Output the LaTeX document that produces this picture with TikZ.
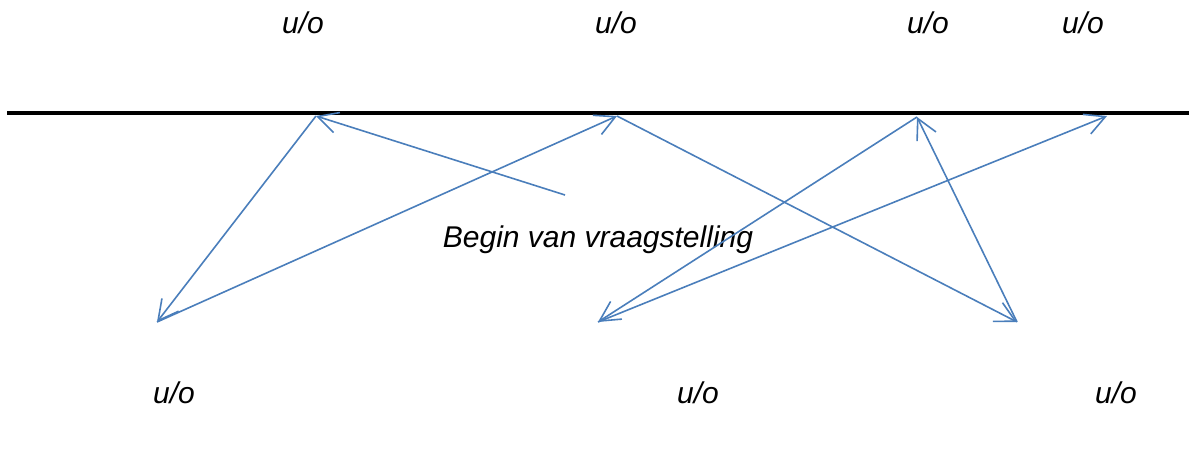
\documentclass[tikz,border=0pt]{standalone}
\usepackage{fontspec}
\setmainfont{Liberation Sans}
\usetikzlibrary{arrows.meta}
\definecolor{arrowblue}{HTML}{4A7EBB}
\begin{document}
\begin{tikzpicture}[x=1pt,y=-1pt,
  lbl/.style={font=\fontsize{30}{36}\selectfont\itshape, inner sep=0pt, anchor=center},
  conn/.style={draw=arrowblue, line width=1.6pt, -{Straight Barb[length=20pt,width=21pt,line width=1.6pt]}},
  pt/.style={coordinate}]
\useasboundingbox (0,0) rectangle (1190,454);
% labels
\node[lbl] (t1) at (303,23) {u/o};
\node[lbl] (t2) at (616,23) {u/o};
\node[lbl] (t3) at (928,23) {u/o};
\node[lbl] (t4) at (1083,23) {u/o};
\node[lbl] (b1) at (174,393) {u/o};
\node[lbl] (b2) at (698,393) {u/o};
\node[lbl] (b3) at (1116,393) {u/o};
\node[lbl] (q) at (598,240) {Begin van vraagstelling};
% base line
\coordinate (L) at (7,113);
\coordinate (R) at (1189,113);
\draw[line width=3.6pt] (L) -- (R);
% path points
\coordinate (s) at (565,195);
\coordinate (p1) at (316,116);
\coordinate (p2) at (157,322);
\coordinate (p3) at (617,116);
\coordinate (p4) at (1017,322);
\coordinate (p5) at (917,117);
\coordinate (p6) at (598,322);
\coordinate (p7) at (1107,116);
\draw[conn] (s) -- (p1);
\draw[conn] (p1) -- (p2);
\draw[conn] (p2) -- (p3);
\draw[conn] (p3) -- (p4);
\draw[conn] (p4) -- (p5);
\draw[conn] (p5) -- (p6);
\draw[conn] (p6) -- (p7);
\end{tikzpicture}
\end{document}
